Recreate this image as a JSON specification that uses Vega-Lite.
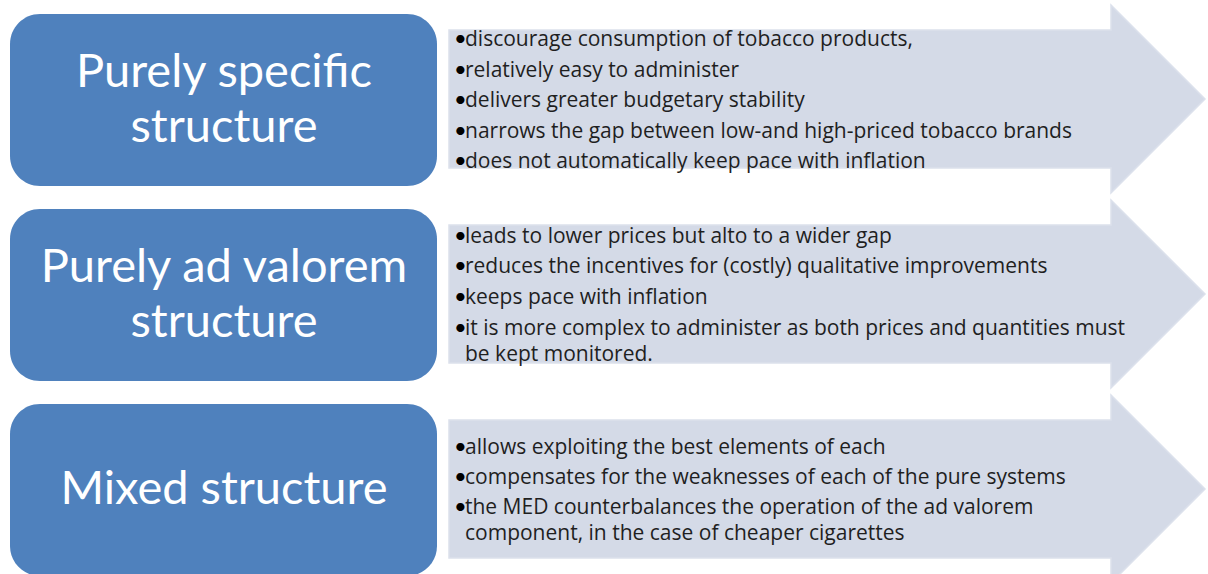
{
  "$schema": "https://vega.github.io/schema/vega-lite/v6.json",
  "autosize": {"type": "fit", "contains": "padding"},
  "width": 1208,
  "height": 574,
  "padding": 0,
  "background": "#ffffff",
  "config": {"view": {"stroke": null}},
  "datasets": {
    "arrows": [
      {"row": 1, "ord": 1, "x": 449, "y": 30},
      {"row": 1, "ord": 2, "x": 1111, "y": 30},
      {"row": 1, "ord": 3, "x": 1111, "y": 5},
      {"row": 1, "ord": 4, "x": 1205, "y": 99},
      {"row": 1, "ord": 5, "x": 1111, "y": 193},
      {"row": 1, "ord": 6, "x": 1111, "y": 168},
      {"row": 1, "ord": 7, "x": 449, "y": 168},
      {"row": 2, "ord": 1, "x": 449, "y": 225},
      {"row": 2, "ord": 2, "x": 1111, "y": 225},
      {"row": 2, "ord": 3, "x": 1111, "y": 200},
      {"row": 2, "ord": 4, "x": 1205, "y": 294},
      {"row": 2, "ord": 5, "x": 1111, "y": 388},
      {"row": 2, "ord": 6, "x": 1111, "y": 363},
      {"row": 2, "ord": 7, "x": 449, "y": 363},
      {"row": 3, "ord": 1, "x": 449, "y": 420},
      {"row": 3, "ord": 2, "x": 1111, "y": 420},
      {"row": 3, "ord": 3, "x": 1111, "y": 395},
      {"row": 3, "ord": 4, "x": 1205, "y": 489},
      {"row": 3, "ord": 5, "x": 1111, "y": 583},
      {"row": 3, "ord": 6, "x": 1111, "y": 558},
      {"row": 3, "ord": 7, "x": 449, "y": 558}
    ],
    "boxes": [
      {"row": 1, "x": 10, "x2": 437, "top": 14, "bot": 186},
      {"row": 2, "x": 10, "x2": 437, "top": 209, "bot": 381},
      {"row": 3, "x": 10, "x2": 437, "top": 404, "bot": 576}
    ],
    "titles": [
      {"x": 224, "y": 87, "text": "Purely specific"},
      {"x": 224, "y": 142, "text": "structure"},
      {"x": 224, "y": 282, "text": "Purely ad valorem"},
      {"x": 224, "y": 337, "text": "structure"},
      {"x": 224, "y": 504, "text": "Mixed structure"}
    ],
    "bullets": [
      {"x": 454, "y": 46}, {"x": 454, "y": 77}, {"x": 454, "y": 107}, {"x": 454, "y": 138}, {"x": 454, "y": 168},
      {"x": 454, "y": 243}, {"x": 454, "y": 273}, {"x": 454, "y": 304}, {"x": 454, "y": 335},
      {"x": 454, "y": 454}, {"x": 454, "y": 484}, {"x": 454, "y": 514}
    ],
    "lines": [
      {"x": 465, "y": 46, "text": "discourage consumption of tobacco products,"},
      {"x": 465, "y": 77, "text": "relatively easy to administer"},
      {"x": 465, "y": 107, "text": "delivers greater budgetary stability"},
      {"x": 465, "y": 138, "text": "narrows the gap between low-and high-priced tobacco brands"},
      {"x": 465, "y": 168, "text": "does not automatically keep pace with inflation"},
      {"x": 465, "y": 243, "text": "leads to lower prices but alto to a wider gap"},
      {"x": 465, "y": 273, "text": "reduces the incentives for (costly) qualitative improvements"},
      {"x": 465, "y": 304, "text": "keeps pace with inflation"},
      {"x": 465, "y": 335, "text": "it is more complex to administer as both prices and quantities must"},
      {"x": 465, "y": 361, "text": "be kept monitored."},
      {"x": 465, "y": 454, "text": "allows exploiting the best elements of each"},
      {"x": 465, "y": 484, "text": "compensates for the weaknesses of each of the pure systems"},
      {"x": 465, "y": 514, "text": "the MED counterbalances the operation of the ad valorem"},
      {"x": 465, "y": 540, "text": "component, in the case of cheaper cigarettes"}
    ]
  },
  "layer": [
    {
      "data": {"name": "arrows"},
      "mark": {"type": "line", "interpolate": "linear-closed", "fill": "#D4DAE7", "stroke": "#DCE1EC", "strokeWidth": 1.5, "clip": true},
      "encoding": {
        "x": {"field": "x", "type": "quantitative", "scale": {"domain": [0, 1208], "nice": false, "zero": false}, "axis": null},
        "y": {"field": "y", "type": "quantitative", "scale": {"domain": [0, 574], "reverse": true, "nice": false, "zero": false}, "axis": null},
        "detail": {"field": "row", "type": "nominal"},
        "order": {"field": "ord", "type": "quantitative"}
      }
    },
    {
      "data": {"name": "boxes"},
      "mark": {"type": "rect", "color": "#4F81BD", "cornerRadius": 30, "clip": true},
      "encoding": {
        "x": {"field": "x", "type": "quantitative"},
        "x2": {"field": "x2"},
        "y": {"field": "top", "type": "quantitative"},
        "y2": {"field": "bot"}
      }
    },
    {
      "data": {"name": "titles"},
      "mark": {"type": "text", "color": "#ffffff", "font": "Lato", "fontSize": 47, "align": "center", "baseline": "alphabetic"},
      "encoding": {
        "x": {"field": "x", "type": "quantitative"},
        "y": {"field": "y", "type": "quantitative"},
        "text": {"field": "text"}
      }
    },
    {
      "data": {"name": "bullets"},
      "mark": {"type": "text", "color": "#000000", "font": "Lato", "fontSize": 22, "align": "left", "baseline": "alphabetic", "text": "•"},
      "encoding": {
        "x": {"field": "x", "type": "quantitative"},
        "y": {"field": "y", "type": "quantitative"}
      }
    },
    {
      "data": {"name": "lines"},
      "mark": {"type": "text", "color": "#1f1f1f", "font": "Open Sans", "fontSize": 21, "align": "left", "baseline": "alphabetic"},
      "encoding": {
        "x": {"field": "x", "type": "quantitative"},
        "y": {"field": "y", "type": "quantitative"},
        "text": {"field": "text"}
      }
    }
  ]
}
